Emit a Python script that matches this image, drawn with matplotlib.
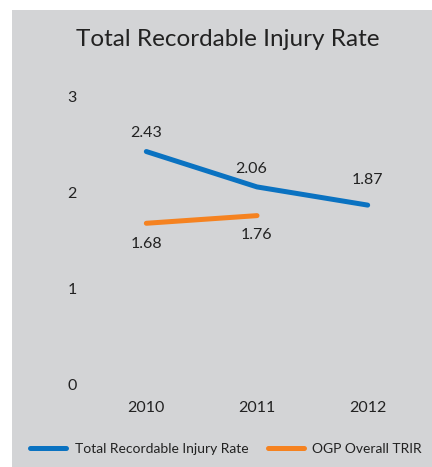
import matplotlib.pyplot as plt
from matplotlib.patches import Rectangle
from matplotlib.lines import Line2D

years = ["2010", "2011", "2012"]
trir = [2.43, 2.06, 1.87]
ogp_years = ["2010", "2011"]
ogp = [1.68, 1.76]

blue = "#0a72c1"
orange = "#f58220"
bg = "#d3d4d6"
txt = "#222222"

plt.rcParams['font.family'] = ['Lato', 'DejaVu Sans']

fig = plt.figure(figsize=(4.32, 4.67), dpi=100)
fig.patches.append(Rectangle((12 / 432, 0), 1, 1 - 10 / 467, transform=fig.transFigure,
                             facecolor=bg, edgecolor='none', zorder=-10))

ax = fig.add_axes([91 / 432, 1 - 384 / 467, 332 / 432, 287 / 467])
ax.set_facecolor('none')
x = list(range(len(years)))
ax.plot(x, trir, color=blue, lw=3.6, solid_capstyle='round')
ax.plot(x[:len(ogp)], ogp, color=orange, lw=3.6, solid_capstyle='round')
ax.set_xlim(-0.5, 2.5)
ax.set_ylim(0, 3)
ax.set_xticks(x)
ax.set_xticklabels(years)
ax.set_yticks([0, 1, 2, 3])
ax.tick_params(length=0, labelsize=11.5, colors=txt)
ax.tick_params(axis='x', pad=12)
for lbl in ax.get_yticklabels():
    lbl.set_horizontalalignment('left')
ax.tick_params(axis='y', pad=17)
for s in ax.spines.values():
    s.set_visible(False)

# value labels
offs_trir = [(0, 8), (-4, 8), (0, 13)]
for i, v in enumerate(trir):
    ax.annotate(f"{v:.2f}", (i, v), xytext=offs_trir[i], textcoords='offset points',
                ha='center', va='bottom', fontsize=11.5, color=txt)
offs_ogp = [(0, -10), (0, -9)]
for i, v in enumerate(ogp):
    ax.annotate(f"{v:.2f}", (i, v), xytext=offs_ogp[i], textcoords='offset points',
                ha='center', va='top', fontsize=11.5, color=txt)

fig.text(228 / 432, 1 - 40 / 467, "Total Recordable Injury Rate", ha='center', va='center',
         fontsize=17.5, color=txt)

handles = [Line2D([], [], color=blue, lw=3.6, solid_capstyle='round'),
           Line2D([], [], color=orange, lw=3.6, solid_capstyle='round')]
fig.legend(handles, ["Total Recordable Injury Rate", "OGP Overall TRIR"], loc='center',
           bbox_to_anchor=(226 / 432, 1 - 449 / 467), ncol=2, frameon=False, fontsize=10,
           handlelength=2.6, columnspacing=1.4, handletextpad=0.6, labelcolor=txt)

fig.savefig("out.png", dpi=100)
